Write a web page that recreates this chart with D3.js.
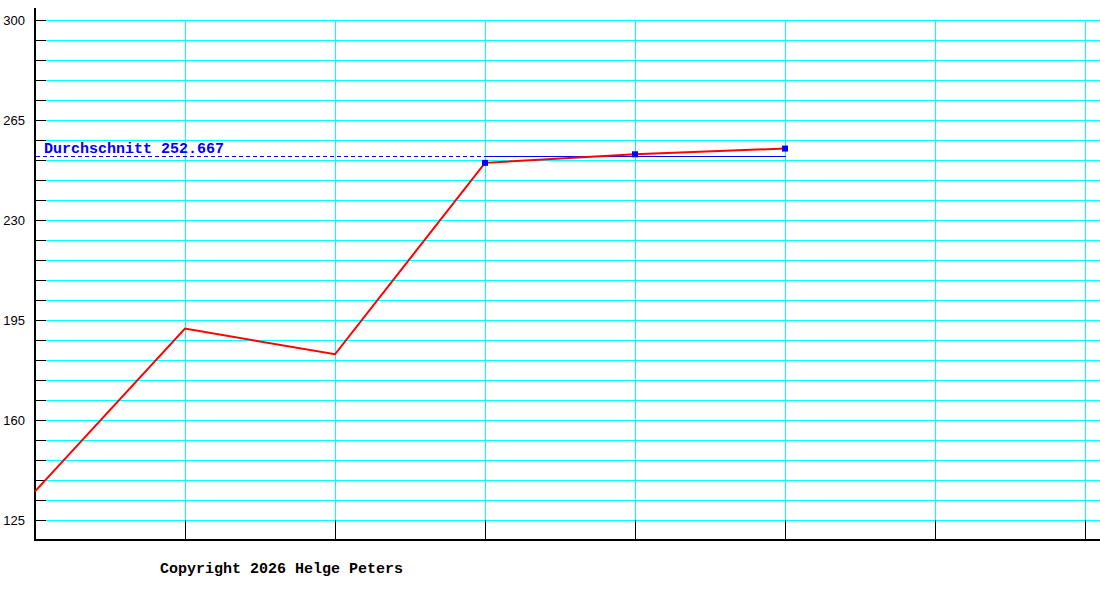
<!DOCTYPE html>
<html lang="de">
<head>
  <meta charset="UTF-8">
  <title>Durchschnitt</title>
  <script src="https://d3js.org/d3.v7.min.js"></script>
  <style>
    body {
      margin: 0;
      background: #fff;
    }

    svg {
      display: block;
      background: #fff;
    }

    .grid line {
      stroke: #00ffff;
      stroke-width: 1;
      shape-rendering: crispEdges;
    }

    .tick-mark {
      stroke: #000;
      stroke-width: 1;
      shape-rendering: crispEdges;
    }

    .axis-line {
      stroke: #000;
      stroke-width: 2;
      shape-rendering: crispEdges;
    }

    .ylabel {
      font-family: "Liberation Sans", sans-serif;
      font-size: 13px;
      fill: #000;
    }

    .avg-seg {
      fill: #0000ff;
      shape-rendering: crispEdges;
    }

    .mono {
      font-family: "Liberation Mono", monospace;
      font-size: 15px;
      font-weight: bold;
    }
  </style>
</head>
<body>
  <svg width="1100" height="600"></svg>

  <script>
    // data
    const periods = [0, 1, 2, 3, 4, 5];
    const values = [135, 192, 183, 250, 253, 255];
    const avgPeriods = [3, 4, 5];
    const yLabels = [125, 160, 195, 230, 265, 300];
    const yGridStep = 7;
    const xSlots = [0, 1, 2, 3, 4, 5, 6, 7];
    const copyright = "Copyright 2026 Helge Peters";

    const svg = d3.select("svg");

    const x = d3.scaleLinear().domain([0, 7]).range([35, 1085]);
    const y = d3.scaleLinear().domain([118, 304.2]).range([540, 8]);

    const gridVals = d3.range(125, 300 + 0.001, yGridStep);

    // horizontal grid + tick marks
    const grid = svg.append("g").attr("class", "grid");
    grid.selectAll(".h")
      .data(gridVals)
      .enter().append("line")
      .attr("class", "h")
      .attr("x1", 46).attr("x2", 1100)
      .attr("y1", d => Math.round(y(d)) + 0.5)
      .attr("y2", d => Math.round(y(d)) + 0.5);

    svg.selectAll(".ytick")
      .data(gridVals)
      .enter().append("line")
      .attr("class", "tick-mark ytick")
      .attr("x1", 35).attr("x2", 46)
      .attr("y1", d => Math.round(y(d)) + 0.5)
      .attr("y2", d => Math.round(y(d)) + 0.5);

    // vertical grid + tick marks
    const xGrid = xSlots.slice(1);
    grid.selectAll(".v")
      .data(xGrid)
      .enter().append("line")
      .attr("class", "v")
      .attr("x1", d => Math.round(x(d)) + 0.5)
      .attr("x2", d => Math.round(x(d)) + 0.5)
      .attr("y1", y(300)).attr("y2", y(125));

    svg.selectAll(".xtick")
      .data(xGrid)
      .enter().append("line")
      .attr("class", "tick-mark xtick")
      .attr("x1", d => Math.round(x(d)) + 0.5)
      .attr("x2", d => Math.round(x(d)) + 0.5)
      .attr("y1", y(125)).attr("y2", y(118));

    // axes
    svg.append("line").attr("class", "axis-line")
      .attr("x1", 35).attr("x2", 35)
      .attr("y1", y(304.2)).attr("y2", y(118) + 1);
    svg.append("line").attr("class", "axis-line")
      .attr("x1", 34).attr("x2", 1100)
      .attr("y1", y(118)).attr("y2", y(118));

    // y labels
    svg.selectAll(".ylabel")
      .data(yLabels)
      .enter().append("text")
      .attr("class", "ylabel")
      .attr("x", 25)
      .attr("y", d => y(d) + 5)
      .attr("text-anchor", "end")
      .text(d => d);

    // average: dashed part up to the first averaged period, solid over the averaged ones
    const avg = d3.mean(avgPeriods, i => values[i]);
    const yAvg = Math.ceil(y(avg));
    const xStart = x(avgPeriods[0]);
    const xEnd = x(avgPeriods[avgPeriods.length - 1]);

    svg.selectAll(".avg-dash")
      .data(d3.range(36, xStart, 7))
      .enter().append("rect")
      .attr("class", "avg-seg avg-dash")
      .attr("x", d => d)
      .attr("y", yAvg)
      .attr("width", d => Math.min(4, xStart - d))
      .attr("height", 1);

    svg.append("rect")
      .attr("class", "avg-seg")
      .attr("x", xStart)
      .attr("y", yAvg)
      .attr("width", xEnd - xStart + 1)
      .attr("height", 1);

    svg.append("text")
      .attr("class", "mono")
      .attr("x", 44)
      .attr("y", 153)
      .attr("fill", "#0000ff")
      .text("Durchschnitt " + d3.format(".3f")(avg));

    // data line
    const line = d3.line()
      .x(d => x(d))
      .y(d => y(values[d]));

    svg.append("path")
      .datum(periods)
      .attr("fill", "none")
      .attr("stroke", "#ff0000")
      .attr("stroke-width", 2)
      .attr("d", line);

    // markers
    svg.selectAll(".dot")
      .data(avgPeriods)
      .enter().append("rect")
      .attr("class", "dot")
      .attr("x", d => x(d) - 3)
      .attr("y", d => y(values[d]) - 3)
      .attr("width", 6)
      .attr("height", 6)
      .attr("fill", "#0000ff");

    // footer
    svg.append("text")
      .attr("class", "mono")
      .attr("x", 160)
      .attr("y", 573)
      .attr("fill", "#000")
      .text(copyright);
  </script>
</body>
</html>
